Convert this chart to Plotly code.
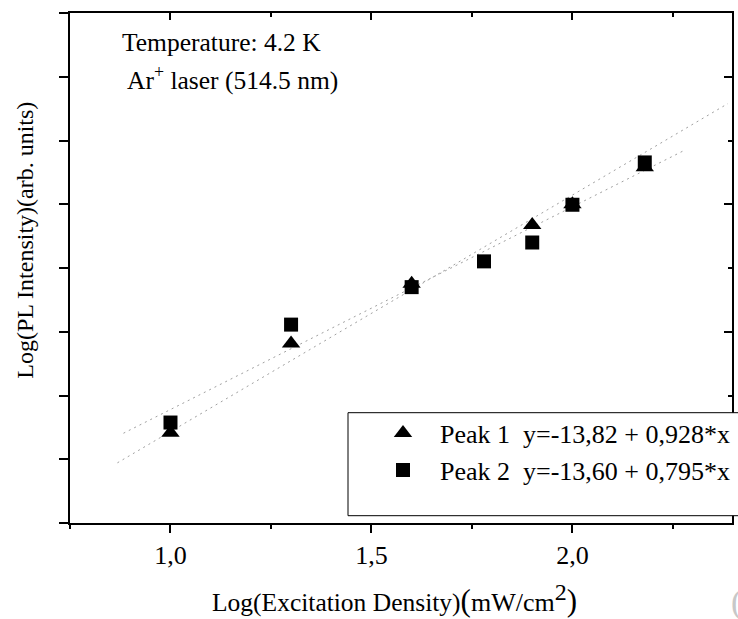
import plotly.graph_objects as go

# ---- data ----
x_peak1 = [1.0, 1.3, 1.6, 1.9, 2.0, 2.18]
y_peak1 = [-12.896, -12.546, -12.312, -12.081, -12.0, -11.855]
x_peak2 = [1.0, 1.3, 1.6, 1.78, 1.9, 2.0, 2.18]
y_peak2 = [-12.856, -12.472, -12.325, -12.224, -12.15, -12.002, -11.836]

# linear-fit lines (end points)
fit1_x = [0.868, 2.387]
fit1_y = [-13.014, -11.605]
fit2_x = [0.883, 2.278]
fit2_y = [-12.898, -11.789]

name_peak1 = "Peak 1\u00a0\u00a0y=-13,82 + 0,928*x"
name_peak2 = "Peak 2\u00a0\u00a0y=-13,60 + 0,795*x"

x_tickvals = [1.0, 1.5, 2.0]
x_ticktext = ["1,0", "1,5", "2,0"]

x_range = [0.75, 2.397]
y_range = [-13.25, -11.25]

FONT = "Liberation Serif, Times New Roman, serif"

fig = go.Figure()

fig.add_trace(go.Scatter(x=fit1_x, y=fit1_y, mode="lines", showlegend=False,
                         line=dict(color="#a0a0a0", width=1, dash="2px,4px")))
fig.add_trace(go.Scatter(x=fit2_x, y=fit2_y, mode="lines", showlegend=False,
                         line=dict(color="#a0a0a0", width=1, dash="2px,4px")))

fig.add_trace(go.Scatter(x=x_peak2, y=y_peak2, mode="markers", name=name_peak2,
                         legendrank=2,
                         marker=dict(symbol="square", size=14, color="black",
                                     line=dict(width=0))))
fig.add_trace(go.Scatter(x=x_peak1, y=y_peak1, mode="markers", name=name_peak1,
                         legendrank=1,
                         marker=dict(symbol="triangle-up", size=16, color="black",
                                     line=dict(width=0))))

# empty trace to create the mirrored (top/right) axes
fig.add_trace(go.Scatter(x=[], y=[], xaxis="x2", yaxis="y2", showlegend=False,
                         hoverinfo="skip"))

axis_font = dict(family=FONT, size=26, color="black")

fig.update_layout(
    width=738, height=619,
    margin=dict(l=70, r=6, t=13, b=96, autoexpand=False),
    paper_bgcolor="white", plot_bgcolor="white",
    font=dict(family=FONT, size=24, color="black"),
    xaxis=dict(range=x_range, showgrid=False, zeroline=False,
               showline=True, linecolor="black", linewidth=2,
               ticks="outside", ticklen=8, tickwidth=2, tickcolor="black",
               tickvals=x_tickvals, ticktext=x_ticktext, tickfont=axis_font,
               ticklabelstandoff=0, automargin=False,
               minor=dict(tickvals=[0.75, 1.25, 1.75, 2.25], ticks="outside",
                          ticklen=4, tickwidth=2, tickcolor="black")),
    yaxis=dict(range=y_range, showgrid=False, zeroline=False,
               showline=True, linecolor="black", linewidth=2,
               ticks="outside", ticklen=9, tickwidth=2, tickcolor="black",
               dtick=0.25, tick0=-13.25, showticklabels=False, automargin=False),
    xaxis2=dict(range=x_range, overlaying="x", side="top", anchor="y2",
                showgrid=False, zeroline=False, showline=True,
                linecolor="black", linewidth=2, showticklabels=False,
                ticks="inside", ticklen=7, tickwidth=2, tickcolor="black",
                tickvals=x_tickvals,
                minor=dict(tickvals=[1.25, 1.75, 2.25], ticks="inside",
                           ticklen=4, tickwidth=2, tickcolor="black")),
    yaxis2=dict(range=y_range, overlaying="y", side="right", anchor="x2",
                showgrid=False, zeroline=False, showline=True,
                linecolor="black", linewidth=2, showticklabels=False,
                ticks="inside", ticklen=8, tickwidth=2, tickcolor="black",
                dtick=0.5, tick0=-13.0,
                minor=dict(dtick=0.25, tick0=-13.25, ticks="inside",
                           ticklen=4, tickwidth=2, tickcolor="black")),
    showlegend=True,
    legend=dict(x=(366 - 70) / 662, y=(523.3 - 410) / 510,
                xanchor="left", yanchor="top",
                bgcolor="rgba(0,0,0,0)", borderwidth=0,
                itemwidth=64, itemsizing="trace",
                font=dict(family=FONT, size=26, color="black")),
)

# legend frame (extends past the right edge like the original)
fig.add_shape(type="rect", xref="paper", yref="paper",
              x0=(348 - 70) / 662, x1=(770 - 70) / 662,
              y0=(523.3 - 516) / 510, y1=(523.3 - 413) / 510,
              line=dict(color="black", width=1), fillcolor="white",
              layer="above")

def px_x(px):
    return (px - 70) / 662

def px_y(py):
    return (523.3 - py) / 510

fig.add_annotation(x=px_x(120), y=px_y(43), xref="paper", yref="paper",
                   xanchor="left", yanchor="middle", showarrow=False,
                   text="Temperature: 4.2 K",
                   font=dict(family=FONT, size=25.5, color="black"))
fig.add_annotation(x=px_x(125), y=px_y(79), xref="paper", yref="paper",
                   xanchor="left", yanchor="middle", showarrow=False,
                   text="Ar<sup>+</sup> laser (514.5 nm)",
                   font=dict(family=FONT, size=25.5, color="black"))

# axis titles
fig.add_annotation(x=px_x(394), y=px_y(599), xref="paper", yref="paper",
                   xanchor="center", yanchor="middle", showarrow=False,
                   text="Log(Excitation Density)"
                        "<span style='font-size:31px'>(</span>"
                        "<span style='font-size:26px'>mW/cm</span>"
                        "<sup><span style='font-size:24px'>2</span></sup>"
                        "<span style='font-size:31px'>)</span>",
                   font=dict(family=FONT, size=25.5, color="black"))
fig.add_annotation(x=px_x(25), y=px_y(241), xref="paper", yref="paper",
                   xanchor="center", yanchor="middle", showarrow=False,
                   textangle=-90,
                   text="Log(PL Intensity)(arb. units)",
                   font=dict(family=FONT, size=24, color="black"))

# partially visible glyph at the lower-right edge
fig.add_annotation(x=px_x(729), y=px_y(602), xref="paper", yref="paper",
                   xanchor="left", yanchor="middle", showarrow=False,
                   text="(", font=dict(family=FONT, size=34, color="#c8c8c8"))

fig.write_html("out.html")
